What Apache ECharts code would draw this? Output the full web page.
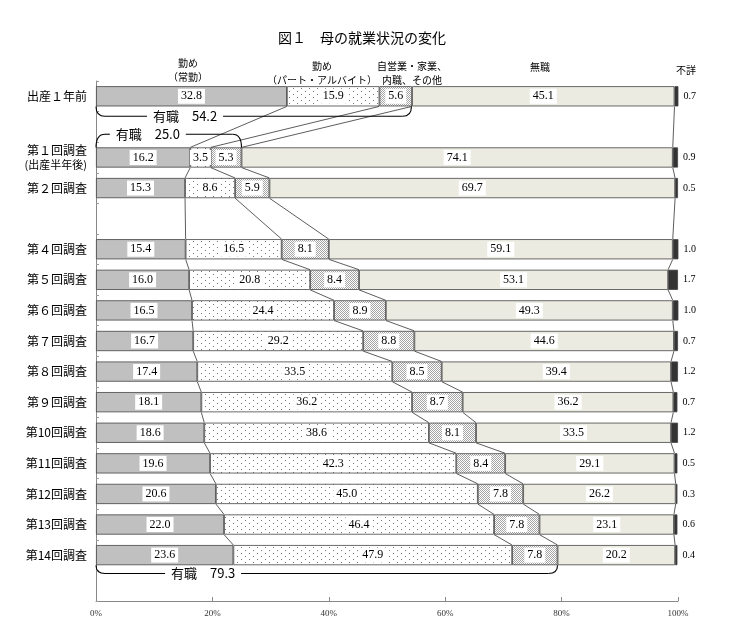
<!DOCTYPE html>
<html><head><meta charset="utf-8">
<script src="https://cdn.jsdelivr.net/npm/echarts@6/dist/echarts.min.js"></script>
<style>html,body{margin:0;padding:0;background:#fff}#c{width:733px;height:621px}</style>
</head><body><div id="c"></div>
<script>
const categories = ['出産１年前','','第１回調査','第２回調査','','第４回調査','第５回調査','第６回調査','第７回調査','第８回調査','第９回調査','第10回調査','第11回調査','第12回調査','第13回調査','第14回調査',''];
const seriesNames = ['勤め（常勤）','勤め（パート・アルバイト）','自営業・家業、内職、その他','無職','不詳'];
const fullTime  = [32.8,null,16.2,15.3,null,15.4,16.0,16.5,16.7,17.4,18.1,18.6,19.6,20.6,22.0,23.6,null];
const partTime  = [15.9,null, 3.5, 8.6,null,16.5,20.8,24.4,29.2,33.5,36.2,38.6,42.3,45.0,46.4,47.9,null];
const selfEmp   = [ 5.6,null, 5.3, 5.9,null, 8.1, 8.4, 8.9, 8.8, 8.5, 8.7, 8.1, 8.4, 7.8, 7.8, 7.8,null];
const noJob     = [45.1,null,74.1,69.7,null,59.1,53.1,49.3,44.6,39.4,36.2,33.5,29.1,26.2,23.1,20.2,null];
const unknown   = [ 0.7,null, 0.9, 0.5,null, 1.0, 1.7, 1.0, 0.7, 1.2, 0.7, 1.2, 0.5, 0.3, 0.6, 0.4,null];
const xTicks = [0,20,40,60,80,100];
// employed totals shown with braces: [category index, total]
const employedRows   = [0, 2, 15];
const employedTotals = [54.2, 25.0, 79.3];

function pattern(w, h, dots, color) {
  const c = document.createElement('canvas');
  c.width = w; c.height = h;
  const g = c.getContext('2d');
  g.fillStyle = '#fff'; g.fillRect(0, 0, w, h);
  g.fillStyle = color;
  dots.forEach(d => g.fillRect(d[0], d[1], 1, 1));
  return {image: c, repeat: 'repeat'};
}
const sparseDots = pattern(8, 6, [[1,1],[5,4]], '#777');
const denseDots  = pattern(2, 2, [[0,0],[1,1]], '#a5a5a5');

const seriesData = [fullTime, partTime, selfEmp, noJob, unknown];
const fills = ['#c0c0c0', sparseDots, denseDots, '#ecebe2', '#333333'];
const BAR = 0.66;

const labelStyle = {
  show: true, position: 'inside', color: '#000', fontSize: 12,
  fontFamily: 'Liberation Serif', backgroundColor: '#fff', padding: [2, 3, 1, 3],
  formatter: p => (p.value == null ? '' : Number(p.value).toFixed(1))
};

const barSeries = seriesData.map((arr, i) => ({
  name: seriesNames[i], type: 'bar', stack: 'all', barWidth: (BAR * 100) + '%',
  data: arr,
  itemStyle: {color: fills[i], borderColor: '#444', borderWidth: 0.8},
  label: i < 4 ? labelStyle : {
    show: true, position: 'right', distance: 5, color: '#000', fontSize: 10,
    fontFamily: 'Liberation Serif', formatter: p => (p.value == null ? '' : Number(p.value).toFixed(1))
  },
  emphasis: {disabled: true}, silent: true, z: 2
}));

// connector lines between consecutive rows at each cumulative boundary
const rows = [];
categories.forEach((c, i) => { if (fullTime[i] != null) rows.push(i); });
function cum(i, k) { let s = 0; for (let j = 0; j <= k; j++) s += seriesData[j][i]; return s; }
const connData = [];
for (let r = 0; r + 1 < rows.length; r++) {
  for (let k = 0; k < 4; k++) {
    connData.push([Math.min(cum(rows[r], k), 100), rows[r], Math.min(cum(rows[r + 1], k), 100), rows[r + 1]]);
  }
}

const braceData = employedRows.map((row, i) => [employedTotals[i], row, i]);
const braceSide = [1, -1, 1];
const braceOffset = [0.65, 0.76, 0.6];
const braceTextAt = [15.3, 8.9, 18.4];

const headers = [
  {text: '勤め\n（常勤）', x: 188, y: 70},
  {text: '勤め\n（パート・アルバイト）', x: 322, y: 73},
  {text: '自営業・家業、\n内職、その他', x: 412, y: 73},
  {text: '無職', x: 540, y: 67},
  {text: '不詳', x: 686, y: 70}
];

const chart = echarts.init(document.getElementById('c'), null, {renderer: 'canvas'});
chart.setOption({
  animation: false,
  title: {
    text: '図１　母の就業状況の変化', left: 357, top: 26, textAlign: 'center',
    textStyle: {fontSize: 14, fontWeight: 'normal', color: '#000', fontFamily: 'Noto Sans CJK JP'}
  },
  grid: {left: 96, right: 55, top: 81, bottom: 20},
  xAxis: {
    type: 'value', min: 0, max: 100, interval: 20,
    axisLine: {show: true, lineStyle: {color: '#888'}},
    axisTick: {show: true, inside: true, length: 4, lineStyle: {color: '#888'}},
    splitLine: {show: false},
    axisLabel: {formatter: '{value}%', fontSize: 9, color: '#333', fontFamily: 'Liberation Serif', margin: 8}
  },
  yAxis: {
    type: 'category', inverse: true, data: categories,
    axisLine: {show: true, lineStyle: {color: '#888'}},
    axisTick: {show: true, inside: true, length: 3, lineStyle: {color: '#999'}},
    axisLabel: {
      color: '#000', fontSize: 12, margin: 9, fontFamily: 'Noto Sans CJK JP',
      formatter: v => v === '第１回調査' ? '{a|第１回調査}\n{b|(出産半年後)}' : v,
      rich: {a: {fontSize: 12, lineHeight: 15, fontFamily: 'Noto Sans CJK JP'},
             b: {fontSize: 11, lineHeight: 14, fontFamily: 'Noto Sans CJK JP'}}
    }
  },
  graphic: headers.map(h => ({
    type: 'text', x: h.x, y: h.y, silent: true,
    style: {text: h.text, fontSize: 10, lineHeight: 14, textAlign: 'center', textVerticalAlign: 'middle', fill: '#000', fontFamily: 'Noto Sans CJK JP'}
  })),
  series: barSeries.concat([
    {
      type: 'custom', silent: true, z: 3, clip: false,
      encode: {x: [0, 2], y: [1, 3]},
      data: connData,
      renderItem: (params, api) => {
        const p1 = api.coord([api.value(0), api.value(1)]);
        const p2 = api.coord([api.value(2), api.value(3)]);
        const h = api.size([0, 1])[1] * BAR / 2;
        return {type: 'line', shape: {x1: p1[0], y1: p1[1] + h, x2: p2[0], y2: p2[1] - h},
                style: {stroke: '#333', lineWidth: 0.8}};
      }
    },
    {
      type: 'custom', silent: true, z: 4, clip: false,
      encode: {x: 0, y: 1},
      data: braceData,
      renderItem: (params, api) => {
        const v = api.value(0), row = api.value(1), idx = api.value(2);
        const s = braceSide[idx];
        const x0 = api.coord([0, row])[0], x1 = api.coord([v, row])[0];
        const yc = api.coord([0, row])[1];
        const band = api.size([0, 1])[1];
        const yEdge = yc + s * band * BAR / 2;
        const yLine = yc + s * band * braceOffset[idx];
        const tx = api.coord([braceTextAt[idx], row])[0];
        const hw = 38, r = 9;
        const st = {stroke: '#000', lineWidth: 1.1, fill: null};
        return {type: 'group', children: [
          {type: 'bezierCurve', shape: {x1: x0, y1: yEdge, cpx1: x0, cpy1: yLine, x2: x0 + r, y2: yLine}, style: st},
          {type: 'line', shape: {x1: x0 + r, y1: yLine, x2: Math.max(x0 + r, tx - hw), y2: yLine}, style: st},
          {type: 'line', shape: {x1: tx + hw, y1: yLine, x2: x1 - r, y2: yLine}, style: st},
          {type: 'bezierCurve', shape: {x1: x1 - r, y1: yLine, cpx1: x1, cpy1: yLine, x2: x1, y2: yEdge}, style: st},
          {type: 'text', style: {x: tx, y: yLine, text: '有職　' + v.toFixed(1), textAlign: 'center', textVerticalAlign: 'middle',
            fontSize: 13, fill: '#000', fontFamily: 'Noto Sans CJK JP'}}
        ]};
      }
    }
  ])
});
</script></body></html>
